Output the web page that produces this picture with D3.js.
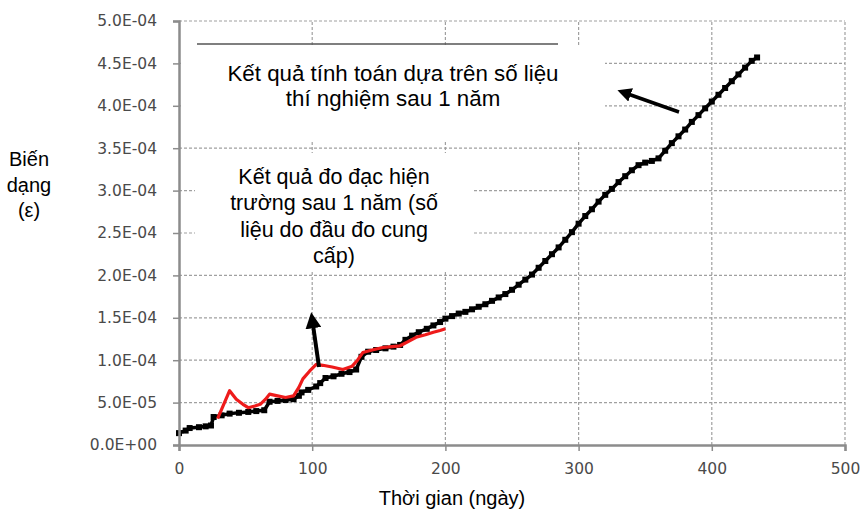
<!DOCTYPE html>
<html>
<head>
<meta charset="utf-8">
<script src="https://cdn.jsdelivr.net/npm/d3@7"></script>
<style>
  html, body { margin: 0; padding: 0; background: #fff; }
  svg { display: block; }
</style>
</head>
<body>
<svg id="chart" width="861" height="531"></svg>
<script>
// ---------- data ----------
// Calculated strain (black series)
const calcDays = [0,5,8,15,20,24,26,32,38,45,52,58,64,68,74,80,86,90,92,97,103,106,110,116,122,128,133,137,142,148,155,161,166,170,175,180,186,191,196,200,205,210,215,220,225,230,235,240,245,250,255,260,265,270,275,280,285,290,295,300,305,310,315,320,325,330,335,340,345,350,355,360,365,370,375,380,385,390,395,400,405,410,415,420,425,430,434];
const calcStrain = [14e-6,17e-6,20e-6,21e-6,22e-6,23e-6,33e-6,35e-6,37e-6,38e-6,39e-6,40e-6,41e-6,51e-6,52e-6,53e-6,54e-6,58e-6,62e-6,65e-6,69e-6,73e-6,79e-6,81e-6,84e-6,86e-6,89e-6,104e-6,110e-6,112e-6,114e-6,116e-6,118e-6,124e-6,129e-6,133e-6,137e-6,141e-6,145e-6,149e-6,152e-6,155e-6,157e-6,160e-6,163e-6,166e-6,170e-6,174e-6,178e-6,183e-6,189e-6,195e-6,201e-6,209e-6,217e-6,225e-6,233e-6,242e-6,251e-6,261e-6,270e-6,278e-6,287e-6,295e-6,302e-6,310e-6,317e-6,324e-6,330e-6,333e-6,335e-6,338e-6,347e-6,356e-6,364e-6,372e-6,381e-6,389e-6,397e-6,405e-6,413e-6,421e-6,429e-6,437e-6,445e-6,453e-6,457e-6];

// Field measurement (red series)
const fieldDays = [29,38,43,48,52,57,61,65,68,74,80,86,90,93,98,103,108,115,123,130,134,138,145,153,160,166,172,178,185,191,196,200];
const fieldStrain = [31e-6,64e-6,54e-6,48e-6,44e-6,46e-6,48e-6,54e-6,60e-6,58e-6,56e-6,58e-6,68e-6,78e-6,87e-6,95e-6,94e-6,92e-6,89e-6,93e-6,100e-6,109e-6,112e-6,115e-6,116e-6,117e-6,122e-6,127e-6,130e-6,133e-6,135e-6,137e-6];

const xTicks = [0,100,200,300,400,500];
const yTicks = [0,5e-5,1e-4,1.5e-4,2e-4,2.5e-4,3e-4,3.5e-4,4e-4,4.5e-4,5e-4];

const xTitle = "Thời gian (ngày)";
const yTitleLines = ["Biến", "dạng", "(ε)"];
const noteCalcLines = ["Kết quả tính toán dựa trên số liệu", "thí nghiệm sau 1 năm"];
const noteFieldLines = ["Kết quả đo đạc hiện", "trường sau 1 năm (số", "liệu do đầu đo cung", "cấp)"];

// ---------- drawing ----------
const svg = d3.select("#chart");
const x = d3.scaleLinear().domain([0, 500]).range([179, 845]);
const y = d3.scaleLinear().domain([0, 5e-4]).range([445, 21]);

function fmtE(v) {
  if (Math.abs(v) < 1e-12) return "0.0E+00";
  const parts = v.toExponential(1).split("e");
  const n = +parts[1];
  return parts[0] + "E" + (n < 0 ? "-" : "+") + String(Math.abs(n)).padStart(2, "0");
}

// gridlines
const grid = svg.append("g");
grid.selectAll("line.h").data(yTicks.slice(1)).join("line")
  .attr("x1", x(0)).attr("x2", x(500))
  .attr("y1", d => y(d)).attr("y2", d => y(d))
  .attr("stroke", "#a0a0a0").attr("stroke-width", 1.2).attr("stroke-dasharray", "3,2");
grid.selectAll("line.v").data(xTicks.slice(1)).join("line")
  .attr("y1", y(0)).attr("y2", y(5e-4))
  .attr("x1", d => x(d)).attr("x2", d => x(d))
  .attr("stroke", "#a0a0a0").attr("stroke-width", 1.2).attr("stroke-dasharray", "3,2");

// series
const pts = (ds, vs) => ds.map((d, i) => [d, vs[i]]);
const line = d3.line().x(d => x(d[0])).y(d => y(d[1]));

const calcPts = pts(calcDays, calcStrain);
svg.append("path").datum(calcPts).attr("d", line)
  .attr("fill", "none").attr("stroke", "#000").attr("stroke-width", 3.5).attr("stroke-linejoin", "round");
svg.append("g").selectAll("rect").data(calcPts).join("rect")
  .attr("x", d => x(d[0]) - 3).attr("y", d => y(d[1]) - 3)
  .attr("width", 6).attr("height", 6).attr("fill", "#000");

const fieldPts = pts(fieldDays, fieldStrain);
svg.append("path").datum(fieldPts).attr("d", line)
  .attr("fill", "none").attr("stroke", "#ee1b1b").attr("stroke-width", 3.2).attr("stroke-linejoin", "round");

// annotation boxes
svg.append("rect").attr("x", 181).attr("y", 46).attr("width", 424).attr("height", 94).attr("fill", "#fff");
svg.append("line").attr("x1", 197).attr("x2", 558).attr("y1", 44).attr("y2", 44)
  .attr("stroke", "#555").attr("stroke-width", 1.5);
svg.append("rect").attr("x", 195).attr("y", 153).attr("width", 277).attr("height", 119).attr("fill", "#fff");

const annFont = "'Liberation Sans', Arial, sans-serif";
svg.append("g").selectAll("text").data(noteCalcLines).join("text")
  .attr("x", 393).attr("y", (d, i) => 73 + i * 25)
  .attr("text-anchor", "middle").attr("dominant-baseline", "central")
  .attr("font-family", annFont).attr("font-size", 22.3).attr("fill", "#000").text(d => d);
svg.append("g").selectAll("text").data(noteFieldLines).join("text")
  .attr("x", 334).attr("y", (d, i) => 177 + i * 26.3)
  .attr("text-anchor", "middle").attr("dominant-baseline", "central")
  .attr("font-family", annFont).attr("font-size", 21.5).attr("fill", "#000").text(d => d);

// axes
const tickFont = "'DejaVu Sans', Verdana, sans-serif";
const yAxis = svg.append("g").attr("transform", `translate(${x(0)},0)`)
  .call(d3.axisLeft(y).tickValues(yTicks).tickFormat(fmtE).tickSize(6).tickPadding(16));
const xAxis = svg.append("g").attr("transform", `translate(0,${y(0)})`)
  .call(d3.axisBottom(x).tickValues(xTicks).tickFormat(d3.format("d")).tickSize(6).tickPadding(12));
[yAxis, xAxis].forEach(a => {
  a.select(".domain").attr("stroke", "#8c8c8c").attr("stroke-width", 2.5);
  a.selectAll(".tick line").attr("stroke", "#8c8c8c").attr("stroke-width", 1.5);
  a.selectAll(".tick text").attr("font-family", tickFont).attr("font-size", 15.5).attr("fill", "#4a4a4a");
});

// arrows
const defs = svg.append("defs");
defs.append("marker").attr("id", "ah").attr("viewBox", "0 0 10 10")
  .attr("refX", 2).attr("refY", 5).attr("markerWidth", 4).attr("markerHeight", 4)
  .attr("orient", "auto").attr("markerUnits", "strokeWidth")
  .append("path").attr("d", "M0,0 L10,5 L0,10 Z").attr("fill", "#000");
svg.append("line").attr("x1", 679).attr("y1", 112).attr("x2", 628).attr("y2", 94)
  .attr("stroke", "#000").attr("stroke-width", 3.5).attr("marker-end", "url(#ah)");
svg.append("line").attr("x1", 319).attr("y1", 367).attr("x2", 313).attr("y2", 325)
  .attr("stroke", "#000").attr("stroke-width", 4).attr("marker-end", "url(#ah)");

// axis titles
svg.append("text").attr("x", 452).attr("y", 498)
  .attr("text-anchor", "middle").attr("dominant-baseline", "central")
  .attr("font-family", annFont).attr("font-size", 20).attr("fill", "#000").text(xTitle);
svg.append("g").selectAll("text").data(yTitleLines).join("text")
  .attr("x", 29).attr("y", (d, i) => 159 + i * 25.5)
  .attr("text-anchor", "middle").attr("dominant-baseline", "central")
  .attr("font-family", annFont).attr("font-size", 20).attr("fill", "#000").text(d => d);
</script>
</body>
</html>
